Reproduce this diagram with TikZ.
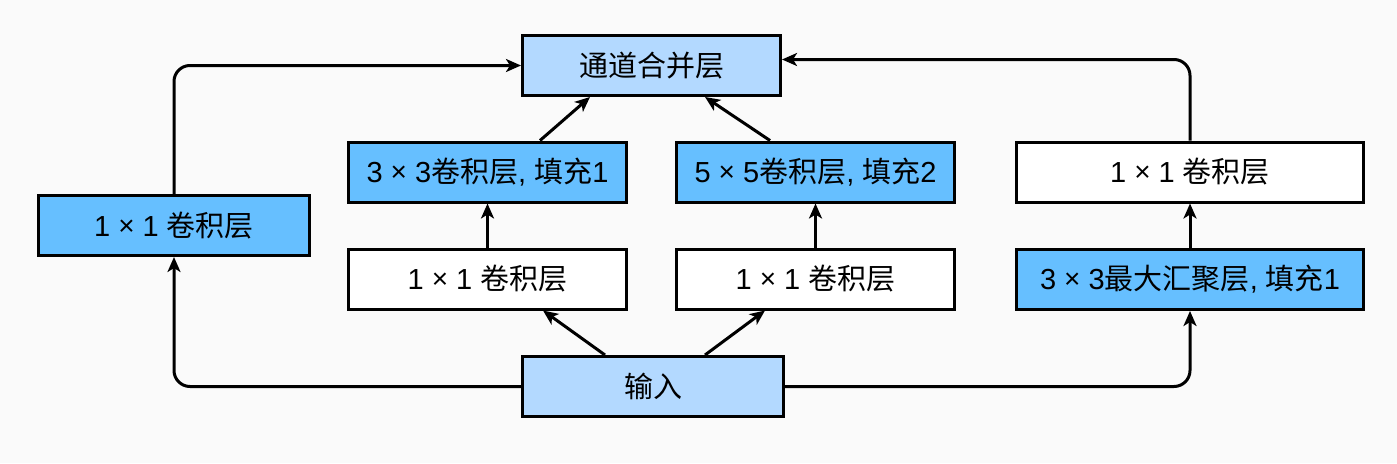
\documentclass[tikz,border=0pt]{standalone}
\usepackage{fontspec}
\setmainfont{Liberation Sans}
\newfontfamily\cjk{Noto Sans CJK SC}
\usetikzlibrary{arrows.meta}
\newcommand{\zh}[1]{{\cjk #1}}
\newcommand{\by}{ \raisebox{1pt}{\fontsize{28}{28}\selectfont ×} }
\definecolor{lightblue}{RGB}{179,217,255}
\definecolor{midblue}{RGB}{102,191,255}
\definecolor{bggray}{RGB}{250,250,250}

\begin{document}
\begin{tikzpicture}[x=1pt,y=-1pt,
    layer/.style={draw,line width=3pt,inner sep=0pt,minimum height=60pt,font=\fontsize{29}{33}\selectfont},
    arr/.style={-{Stealth[length=15pt,width=13pt,inset=4pt]},line width=3pt,rounded corners=16pt}]
    \fill[bggray] (0,0) rectangle (1397,463);
    \useasboundingbox (0,0) rectangle (1397,463);
    % outputs
    \node[layer,fill=lightblue,minimum width=258pt] (concat) at (651.5,65.5) {\zh{通道合并层}};
    \node[layer,fill=midblue,minimum width=271pt] (conv1a) at (174,225.5) {1\by1 \zh{卷积层}};
    \node[layer,fill=midblue,minimum width=278pt] (conv3) at (487.5,172) {3\by3\zh{卷积层}, \zh{填充}1};
    \node[layer,fill=midblue,minimum width=278pt] (conv5) at (815.5,172) {5\by5\zh{卷积层}, \zh{填充}2};
    \node[layer,fill=white,minimum width=347pt] (conv1d) at (1190,172) {1\by1 \zh{卷积层}};
    % middle row
    \node[layer,fill=white,minimum width=278pt] (conv1b) at (487.5,279) {1\by1 \zh{卷积层}};
    \node[layer,fill=white,minimum width=278pt] (conv1c) at (815.5,279) {1\by1 \zh{卷积层}};
    \node[layer,fill=midblue,minimum width=347pt] (pool) at (1190,279.5) {3\by3\zh{最大汇聚层}, \zh{填充}1};
    % input
    \node[layer,fill=lightblue,minimum width=261pt] (input) at (653,386.5) {\zh{输入}};
    % paths
    \draw[arr] (input.west) -| (conv1a.south);
    \draw[arr] (conv1a.north) |- (concat.west);
    \draw[arr] (input.east) -| (pool.south);
    \draw[arr] (conv1d.north) |- ([yshift=6pt]concat.east);
    \draw[arr] ([xshift=-48pt]input.north) -- ([xshift=55.5pt]conv1b.south);
    \draw[arr] ([xshift=52pt]input.north) -- ([xshift=-50.5pt]conv1c.south);
    \draw[arr] (conv1b.north) -- (conv3.south);
    \draw[arr] (conv1c.north) -- (conv5.south);
    \draw[arr] (pool.north) -- (conv1d.south);
    \draw[arr] ([xshift=52.5pt]conv3.north) -- ([xshift=-61.5pt]concat.south);
    \draw[arr] ([xshift=-45.5pt]conv5.north) -- ([xshift=53.5pt]concat.south);
\end{tikzpicture}
\end{document}
